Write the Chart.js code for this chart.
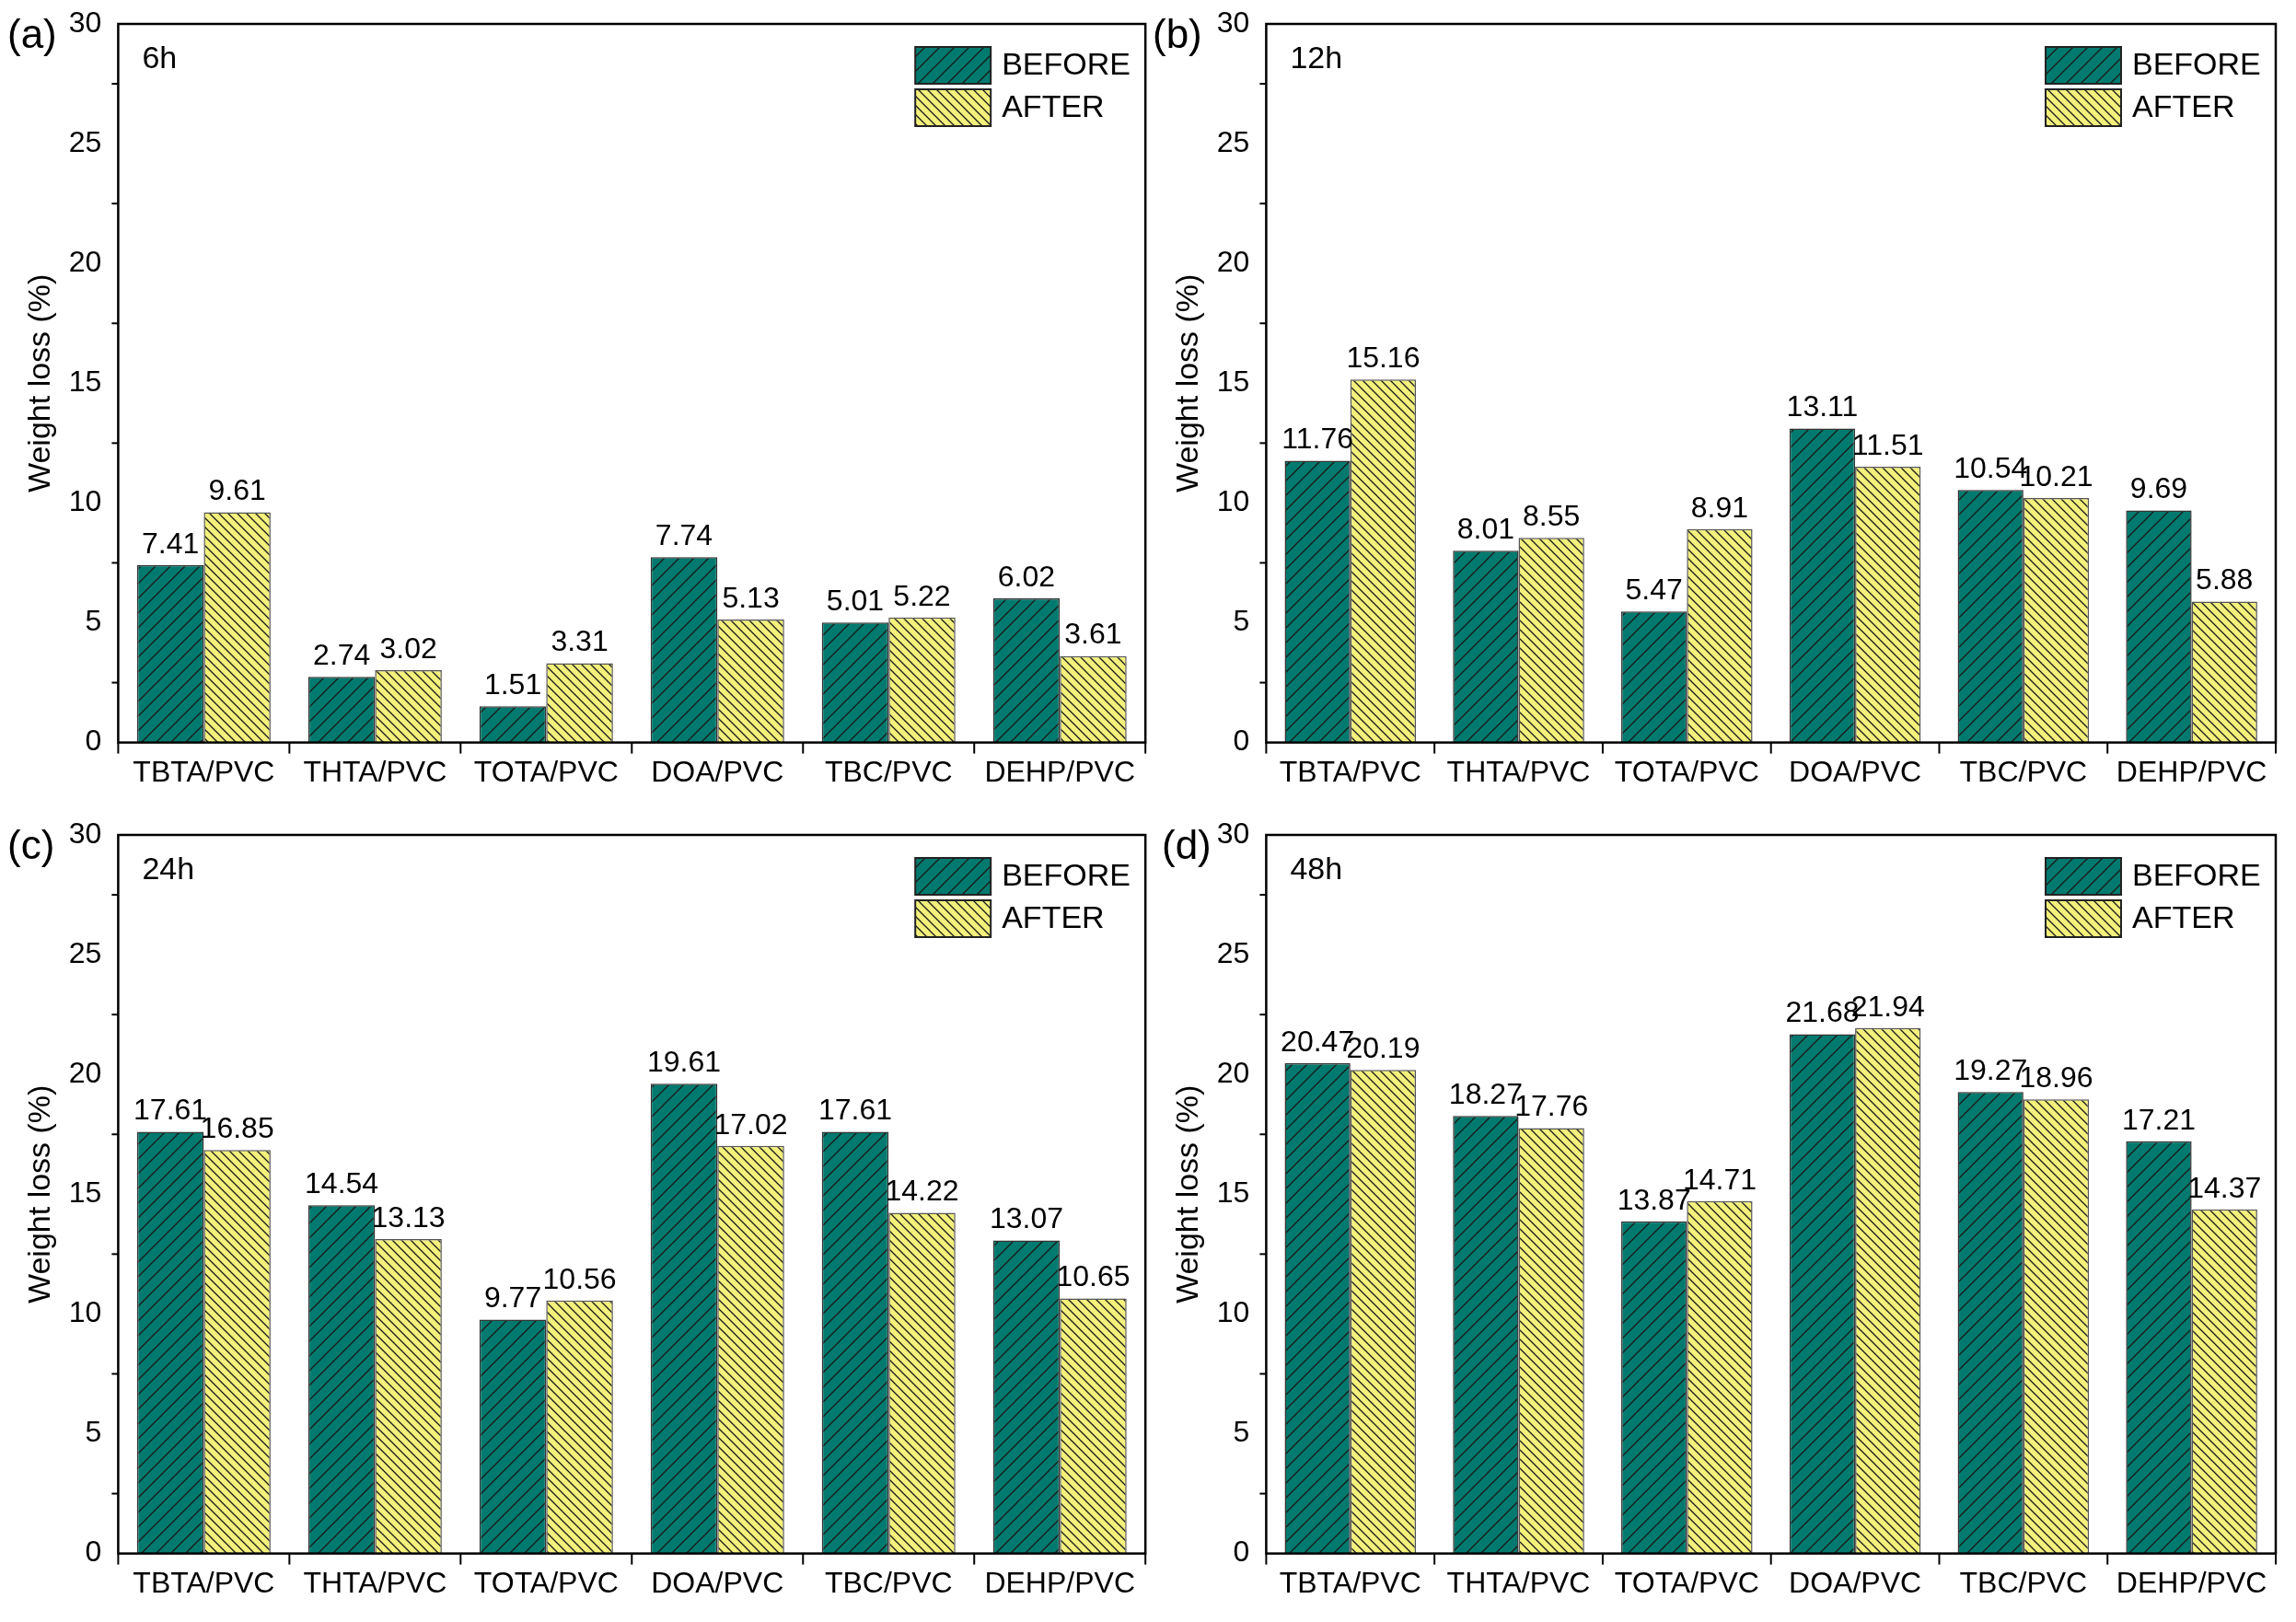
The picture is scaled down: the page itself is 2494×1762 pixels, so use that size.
<!DOCTYPE html>
<html><head><meta charset="utf-8">
<script src="https://cdn.jsdelivr.net/npm/chart.js@4"></script>
<style>
body{margin:0;background:#fff;width:2494px;height:1762px;position:relative;overflow:hidden;font-family:"Liberation Sans Narrow","Liberation Sans",Arial,sans-serif}
.box{position:absolute;width:1247px;height:881px}
.lab{position:absolute;font-size:44px;color:#000}
</style></head><body>
<div class="box" style="left:0;top:0"><canvas id="c0"></canvas></div>
<div class="box" style="left:1247px;top:0"><canvas id="c1"></canvas></div>
<div class="box" style="left:0;top:881px"><canvas id="c2"></canvas></div>
<div class="box" style="left:1247px;top:881px"><canvas id="c3"></canvas></div>
<div class="lab" style="left:8px;top:12px">(a)</div>
<div class="lab" style="left:1252px;top:12px">(b)</div>
<div class="lab" style="left:8px;top:893px">(c)</div>
<div class="lab" style="left:1262px;top:893px">(d)</div>
<script>
const categories=["TBTA/PVC","THTA/PVC","TOTA/PVC","DOA/PVC","TBC/PVC","DEHP/PVC"];
const panelTimes=["6h","12h","24h","48h"];
const before6=[7.41,2.74,1.51,7.74,5.01,6.02];
const after6=[9.61,3.02,3.31,5.13,5.22,3.61];
const before12=[11.76,8.01,5.47,13.11,10.54,9.69];
const after12=[15.16,8.55,8.91,11.51,10.21,5.88];
const before24=[17.61,14.54,9.77,19.61,17.61,13.07];
const after24=[16.85,13.13,10.56,17.02,14.22,10.65];
const before48=[20.47,18.27,13.87,21.68,19.27,17.21];
const after48=[20.19,17.76,14.71,21.94,18.96,14.37];
const yTicks=[0,5,10,15,20,25,30];
const FONT='"Liberation Sans Narrow","Liberation Sans",Arial,sans-serif';

function hatch(bg,dir,sp){
  const c=document.createElement('canvas');c.width=sp;c.height=sp;
  const g=c.getContext('2d');g.fillStyle=bg;g.fillRect(0,0,sp,sp);
  g.strokeStyle='#1a1a1a';g.lineWidth=1.3;g.beginPath();
  if(dir>0){g.moveTo(0,sp);g.lineTo(sp,0);g.moveTo(-sp/2,sp/2);g.lineTo(sp/2,-sp/2);g.moveTo(sp/2,sp*1.5);g.lineTo(sp*1.5,sp/2);}
  else{g.moveTo(0,0);g.lineTo(sp,sp);g.moveTo(-sp/2,sp/2);g.lineTo(sp/2,sp*1.5);g.moveTo(sp/2,-sp/2);g.lineTo(sp*1.5,sp/2);}
  g.stroke();
  return document.createElement('canvas').getContext('2d').createPattern(c,'repeat');
}
const pB=hatch('#007a6e',1,16), pA=hatch('#f3f07c',-1,10);

const deco={id:'deco',afterDraw(ch){
  const g=ch.ctx,a=ch.chartArea,y=ch.scales.y;
  g.save();g.strokeStyle='#000';g.lineWidth=2.5;g.strokeRect(a.left,a.top,a.right-a.left,a.bottom-a.top);
  g.lineWidth=2;
  for(let v=2.5;v<30;v+=5){const p=y.getPixelForValue(v);g.beginPath();g.moveTo(a.left,p);g.lineTo(a.left-7,p);g.stroke();}
  const w=(a.right-a.left)/6;
  for(let i=0;i<=6;i++){const x=a.left+i*w;g.beginPath();g.moveTo(x,a.bottom);g.lineTo(x,a.bottom+12);g.stroke();}
  // data labels
  g.font='32px '+FONT;g.fillStyle='#000';g.textAlign='center';g.textBaseline='bottom';
  ch.data.datasets.forEach((ds,di)=>{ch.getDatasetMeta(di).data.forEach((b,i)=>{g.fillText(ds.data[i].toFixed(2),b.x,b.y-6);});});
  // time label
  g.textAlign='left';g.textBaseline='top';g.font='34px '+FONT;g.fillText(ch.options.plugins.tlabel,a.left+26,a.top+22);
  // legend
  const lx=a.right-250,ly=a.top+25;
  [[pB,'BEFORE'],[pA,'AFTER']].forEach((it,k)=>{
    g.fillStyle=it[0];g.fillRect(lx,ly+k*46,82,40);g.strokeStyle='#222';g.lineWidth=2;g.strokeRect(lx,ly+k*46,82,40);
    g.fillStyle='#000';g.font='34px '+FONT;g.textBaseline='middle';g.fillText(it[1],lx+94,ly+k*46+21);
  });
  g.restore();
}};

const sets=[[before6,after6],[before12,after12],[before24,after24],[before48,after48]];
sets.forEach((s,i)=>{
  new Chart(document.getElementById('c'+i),{type:'bar',
    data:{labels:categories,datasets:[
      {label:'BEFORE',data:s[0],backgroundColor:pB,borderColor:'#333',borderWidth:1.5},
      {label:'AFTER',data:s[1],backgroundColor:pA,borderColor:'#555',borderWidth:1.5}]},
    options:{responsive:true,maintainAspectRatio:false,animation:false,
      layout:{padding:{left:20,right:i%2==0?0:22,top:26,bottom:8}},
      datasets:{bar:{categoryPercentage:0.78,barPercentage:1}},
      plugins:{legend:{display:false},tooltip:{enabled:false},tlabel:panelTimes[i]},
      scales:{
        x:{grid:{display:false,drawTicks:false},border:{display:false},
           ticks:{color:'#000',font:{family:FONT,size:32},padding:14,maxRotation:0,autoSkip:false}},
        y:{min:0,max:30,grid:{display:false,drawTicks:true,tickLength:12,tickColor:'#000',tickWidth:2},border:{display:false},
           afterBuildTicks(sc){sc.ticks=yTicks.map(v=>({value:v}));},
           ticks:{color:'#000',font:{family:FONT,size:32},padding:6},
           title:{display:true,text:'Weight loss (%)',color:'#000',font:{family:FONT,size:34},padding:{bottom:4}}}
      }},plugins:[deco]});
});
</script></body></html>
